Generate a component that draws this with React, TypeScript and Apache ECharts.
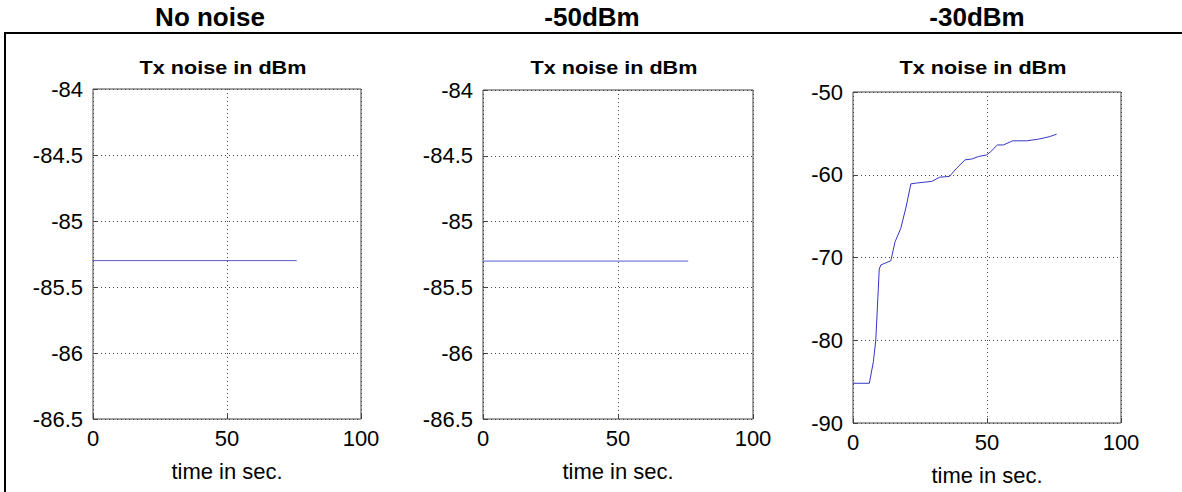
import React, { useEffect, useRef } from "react";
import * as echarts from "echarts";

const panelTitles = ["No noise", "-50dBm", "-30dBm"];
const subTitle = "Tx noise in dBm";
const xAxisName = "time in sec.";

const flatTime = [0, 76];
const noNoiseValues = [-85.3, -85.3];
const minus50Values = [-85.3, -85.3];

const time30 = [0, 6.1, 7.6, 8.5, 9.8, 10.4, 14.1, 15.7, 17.8, 19.8, 21.6, 23.8, 29.4, 32.3, 36.0, 38.7, 41.8, 44.3, 46.8, 49.9, 51.4, 53.9, 56.1, 59.6, 64.8, 69.2, 73.3, 76.0];
const minus30Values = [-85.2, -85.2, -82.6, -80, -71.4, -70.9, -70.4, -68.1, -66.5, -63.9, -61.1, -61.0, -60.8, -60.3, -60.2, -59.2, -58.2, -58.1, -57.8, -57.6, -57.2, -56.4, -56.4, -55.9, -55.9, -55.7, -55.4, -55.1];

const yRanges = [
  { min: -86.5, max: -84, interval: 0.5 },
  { min: -86.5, max: -84, interval: 0.5 },
  { min: -90, max: -50, interval: 10 },
];
const xRange = { min: 0, max: 100, interval: 50 };

const FONT = "Liberation Sans, Arial, sans-serif";

export default function App() {
  const ref = useRef<HTMLDivElement>(null);
  useEffect(() => {
    if (!ref.current) return;
    const chart = echarts.init(ref.current, null, { renderer: "svg" });
    const grids = [
      { left: 93, top: 89, width: 268, height: 330 },
      { left: 483, top: 90, width: 270, height: 329 },
      { left: 853, top: 92, width: 268, height: 331 },
    ];
    const seriesData = [
      flatTime.map((t, i) => [t, noNoiseValues[i]]),
      flatTime.map((t, i) => [t, minus50Values[i]]),
      time30.map((t, i) => [t, minus30Values[i]]),
    ];
    const lineColors = ["#5a5ad0", "#5a5ad0", "#3535c8"];
    const splitLine = { show: true, lineStyle: { color: "#444", type: [1, 3] as any, width: 1 } };
    const axisLabel = { color: "#000", fontSize: 22, fontFamily: FONT };
    const titleCenters = [210, 592, 977];
    const option: any = {
      animation: false,
      backgroundColor: "#fff",
      grid: grids.map((g) => ({ ...g, show: true, borderColor: "#444", borderWidth: 1, backgroundColor: "transparent" })),
      xAxis: grids.map((g, i) => ({
        type: "value",
        gridIndex: i,
        min: xRange.min,
        max: xRange.max,
        interval: xRange.interval,
        name: xAxisName,
        nameLocation: "middle",
        nameGap: 41,
        nameMoveOverlap: false,
        nameTextStyle: { color: "#000", fontSize: 22, fontFamily: FONT },
        axisLine: { show: false },
        axisTick: { show: true, inside: true, length: 5, lineStyle: { color: "#444" } },
        axisLabel: { ...axisLabel, margin: 8 },
        splitLine,
      })),
      yAxis: grids.map((g, i) => ({
        type: "value",
        gridIndex: i,
        min: yRanges[i].min,
        max: yRanges[i].max,
        interval: yRanges[i].interval,
        axisLine: { show: false },
        axisTick: { show: true, inside: true, length: 5, lineStyle: { color: "#444" } },
        axisLabel: { ...axisLabel, margin: 10 },
        splitLine,
      })),
      series: seriesData.map((d, i) => ({
        type: "line",
        xAxisIndex: i,
        yAxisIndex: i,
        data: d,
        showSymbol: false,
        symbol: "none",
        lineStyle: { color: lineColors[i], width: 1 },
      })),
      graphic: [
        { type: "line", shape: { x1: 4, y1: 33, x2: 1182, y2: 33 }, style: { stroke: "#000", lineWidth: 2 } },
        { type: "line", shape: { x1: 5, y1: 32, x2: 5, y2: 492 }, style: { stroke: "#000", lineWidth: 2 } },
        ...panelTitles.map((t, i) => ({
          type: "text",
          x: titleCenters[i],
          y: 17,
          style: { text: t, fill: "#000", font: `bold 26px ${FONT}`, textAlign: "center", textVerticalAlign: "middle" },
        })),
        ...grids.map((g) => ({
          type: "text",
          x: g.left + g.width / 2 - 4,
          y: 68,
          scaleX: 1.2,
          style: { text: subTitle, fill: "#000", font: `bold 18px ${FONT}`, textAlign: "center", textVerticalAlign: "middle" },
        })),
      ],
    };
    chart.setOption(option);
    return () => chart.dispose();
  }, []);
  return <div ref={ref} style={{ position: "absolute", left: 0, top: 0, width: 1182, height: 492 }} />;
}
